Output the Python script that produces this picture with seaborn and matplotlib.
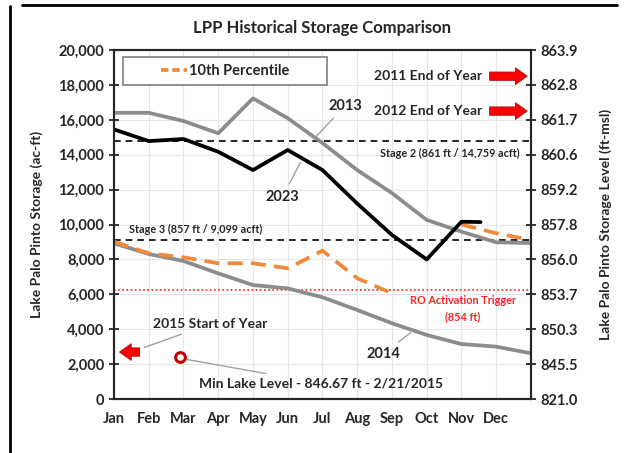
#!/usr/bin/env python3
import matplotlib
matplotlib.use('Agg')
import matplotlib.pyplot as plt
from matplotlib.patches import Rectangle
from matplotlib.lines import Line2D
import seaborn as sns
import numpy as np
import pandas as pd

# month positions: 0 = Jan ... 12 = end of Dec
months = ['Jan', 'Feb', 'Mar', 'Apr', 'May', 'Jun', 'Jul', 'Aug', 'Sep', 'Oct', 'Nov', 'Dec']
x_pos = list(range(13))

storage_2013 = [16400, 16400, 15930, 15230, 17230, 16090, 14670, 13120, 11800, 10260, 9590, 8980, 8940]
storage_2014 = [8920, 8310, 7910, 7200, 6530, 6340, 5830, 5100, 4340, 3670, 3150, 3000, 2620]
pct10 = [9020, 8350, 8120, 7780, 7780, 7490, 8500, 6920, 6060, np.nan, 10000, 9500, 9110]
x_2023 = [0, 1, 2, 3, 4, 5, 6, 7, 8, 9, 10, 10.55]
storage_2023 = [15450, 14780, 14900, 14170, 13120, 14270, 13120, 11200, 9400, 8000, 10160, 10140]

stage2 = 14759
stage3 = 9099
ro_trigger = 6250

right_labels = ['821.0', '845.5', '850.3', '853.7', '856.0', '857.8',
                '859.2', '860.6', '861.7', '862.8', '863.9']
left_ticks = list(range(0, 20001, 2000))


def set_plot_style():
    sns.set_style("white")
    plt.rcParams['font.family'] = ['Lato', 'DejaVu Sans']
    plt.rcParams['font.weight'] = 'bold'
    plt.rcParams['axes.labelweight'] = 'bold'


set_plot_style()

fig = plt.figure(figsize=(6.28, 4.53), dpi=100)
ax = fig.add_axes([0.1815, 0.1192, 0.664, 0.7704])

# grid
for v in left_ticks[1:-1]:
    ax.axhline(v, color='#e6e6e6', lw=0.8, zorder=0)
for m in x_pos[1:-1]:
    ax.axvline(m, color='#e6e6e6', lw=0.8, zorder=0)

df13 = pd.DataFrame({'x': x_pos, 'y': storage_2013})
df14 = pd.DataFrame({'x': x_pos, 'y': storage_2014})
df10 = pd.DataFrame({'x': x_pos, 'y': pct10})
df23 = pd.DataFrame({'x': x_2023, 'y': storage_2023})

# threshold lines
ax.axhline(stage2, color='black', lw=1.2, ls=(0, (4, 3)), zorder=2)
ax.axhline(stage3, color='black', lw=1.2, ls=(0, (4, 3)), zorder=2)
ax.axhline(ro_trigger, color='#ff2020', lw=1.2, ls=(0, (1, 1.5)), zorder=2)

sns.lineplot(data=df14, x='x', y='y', color='#8c8c8c', lw=2.7, ax=ax, zorder=3)
sns.lineplot(data=df13, x='x', y='y', color='#8c8c8c', lw=2.7, ax=ax, zorder=3)
ax.plot(df10['x'], df10['y'], color='#f08a3a', lw=2.7, ls=(0, (4, 2.2)), zorder=4)
sns.lineplot(data=df23, x='x', y='y', color='black', lw=2.7, ax=ax, zorder=5)

ax.set_xlim(0, 12)
ax.set_ylim(0, 20000)
ax.set_xticks(x_pos)
ax.set_xticklabels(months + [''])
ax.set_yticks(left_ticks)
ax.set_yticklabels([f'{v:,}' for v in left_ticks])
ax.set_xlabel('')
ax.set_ylabel('Lake Palo Pinto Storage (ac-ft)', fontsize=10, fontweight='bold')
ax.yaxis.set_label_coords(-0.17, 0.5)
ax.tick_params(axis='both', direction='inout', length=7, width=1.3, labelsize=10.5)
ax.tick_params(axis='x', pad=6)
for spine in ax.spines.values():
    spine.set_linewidth(1.5)
    spine.set_color('black')

ax2 = ax.twinx()
ax2.set_ylim(0, 20000)
ax2.set_yticks(left_ticks)
ax2.set_yticklabels(right_labels)
ax2.tick_params(axis='y', direction='inout', length=7, width=1.3, labelsize=10.5)
ax2.set_ylabel('Lake Palo Pinto Storage Level (ft-msl)', fontsize=10, fontweight='bold')
ax2.yaxis.set_label_coords(1.165, 0.5)
for spine in ax2.spines.values():
    spine.set_linewidth(1.5)

ax.set_title('LPP Historical Storage Comparison', fontsize=12, fontweight='bold', pad=12)

# legend box
ax.add_patch(Rectangle((0.022, 0.9), 0.489, 0.08, transform=ax.transAxes,
                       fill=True, fc='white', ec='#808080', lw=1.2, zorder=6))
handle = Line2D([], [], color='#f08a3a', lw=2.7, ls=(0, (2, 1)))
leg = ax.legend([handle], ['10th Percentile'], loc='center', bbox_to_anchor=(0.266, 0.94),
                frameon=False, fontsize=10.5, handlelength=1.8, handletextpad=0.1)
leg.set_zorder(10)

# annotations
line_kw = dict(arrowstyle='-', color='#a0a0a0', lw=1)
ax.annotate('2013', xy=(5.75, 14900), xytext=(6.65, 16800), fontsize=10.5, fontweight='bold',
            ha='center', va='center', arrowprops=line_kw, zorder=7)
ax.annotate('2023', xy=(5.4, 13700), xytext=(4.86, 11600), fontsize=10.5, fontweight='bold',
            ha='center', va='center', arrowprops=line_kw, zorder=7)
ax.annotate('2014', xy=(8.6, 3900), xytext=(7.74, 2580), fontsize=10.5, fontweight='bold',
            ha='center', va='center', arrowprops=line_kw, zorder=7)
ax.annotate('2015 Start of Year', xy=(0.8, 2900), xytext=(2.76, 4300), fontsize=10,
            fontweight='bold', ha='center', va='center', arrowprops=line_kw, zorder=7)
ax.annotate('Min Lake Level - 846.67 ft - 2/21/2015', xy=(2.0, 2300), xytext=(5.95, 900),
            fontsize=10, fontweight='bold', ha='center', va='center', arrowprops=line_kw, zorder=7)
ax.text(9.65, 14050, 'Stage 2 (861 ft / 14,759 acft)', fontsize=7.8, fontweight='bold',
        ha='center', va='center', zorder=7)
ax.text(0.42, 9700, 'Stage 3 (857 ft / 9,099 acft)', fontsize=7.8, fontweight='bold',
        ha='left', va='center', zorder=7)
ax.text(10.04, 5620, 'RO Activation Trigger', fontsize=7.8, fontweight='bold',
        color='#ff2020', ha='center', va='center', zorder=7)
ax.text(10.04, 4700, '(854 ft)', fontsize=7.8, fontweight='bold',
        color='#ff2020', ha='center', va='center', zorder=7)
ax.text(10.6, 18500, '2011 End of Year', fontsize=10, fontweight='bold', ha='right', va='center')
ax.text(10.6, 16500, '2012 End of Year', fontsize=10, fontweight='bold', ha='right', va='center')

arrow_kw = dict(arrowstyle='simple,head_width=1.0,head_length=0.7,tail_width=0.5',
                mutation_scale=12, fc='#ff0000', ec='#a01010', lw=0.6)
ax.annotate('', xy=(11.97, 18500), xytext=(10.73, 18500), arrowprops=arrow_kw)
ax.annotate('', xy=(11.97, 16500), xytext=(10.73, 16500), arrowprops=arrow_kw)
ax.annotate('', xy=(0.08, 2690), xytext=(0.82, 2690), arrowprops=arrow_kw)

ax.plot([1.9], [2400], marker='o', ms=7, mfc='white', mec='#c00000', mew=2.2, zorder=8)

# outer frame lines
fig.add_artist(Line2D([22 / 628, 617 / 628], [1 - 5 / 453, 1 - 5 / 453], color='black', lw=2))
fig.add_artist(Line2D([10 / 628, 10 / 628], [0, 1 - 6 / 453], color='black', lw=2))

plt.savefig('out.png', dpi=100, facecolor='white')
plt.close()
